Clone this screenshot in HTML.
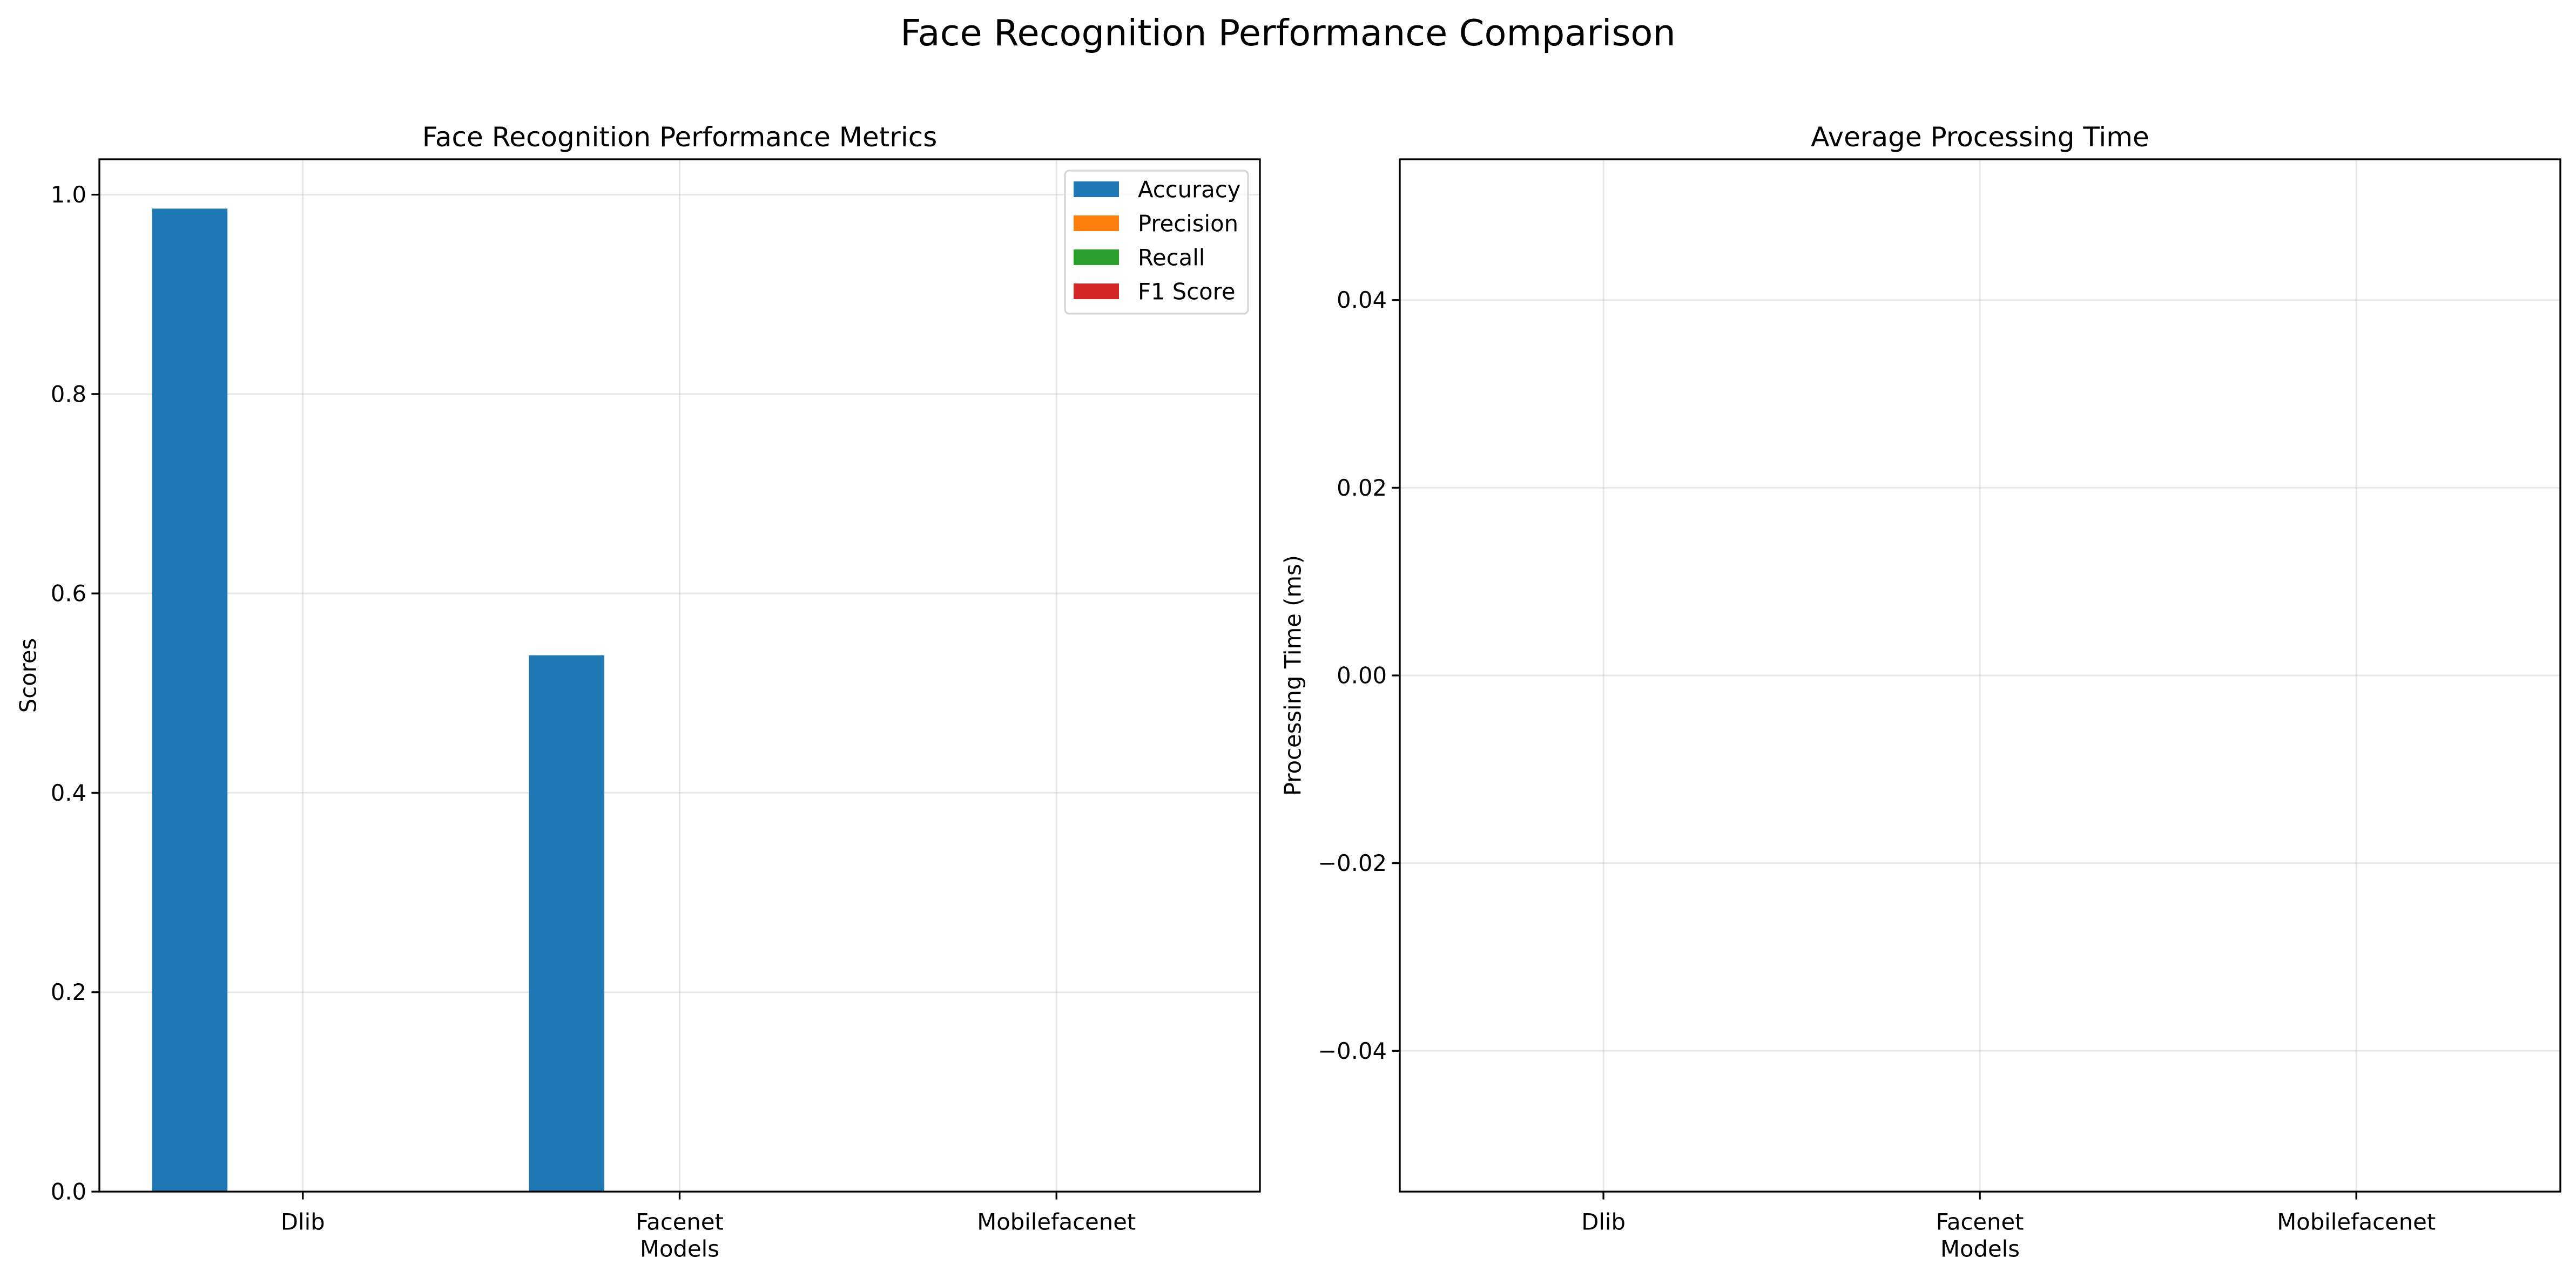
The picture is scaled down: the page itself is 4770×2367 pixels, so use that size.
<!DOCTYPE html>
<html><head><meta charset="utf-8"><style>
html,body{margin:0;padding:0;background:#fff;}
svg{display:block;font-family:"DejaVu Sans","Liberation Sans",sans-serif;}
</style></head><body>
<svg id="fig" width="4770" height="2367" viewBox="0 0 4770 2367" xmlns="http://www.w3.org/2000/svg">
<rect width="4770" height="2367" fill="#fff"/>
<text x="2385" y="61" font-size="67" text-anchor="middle" dominant-baseline="central">Face Recognition Performance Comparison</text>
<g id="left"></g><g id="right"></g>
</svg>
<script>
const categories = ["Dlib","Facenet","Mobilefacenet"];
const seriesNames = ["Accuracy","Precision","Recall","F1 Score"];
const seriesColors = ["#1f77b4","#ff7f0e","#2ca02c","#d62728"];
const accuracy = [0.986, 0.538, 0];
const precision = [0, 0, 0];
const recall = [0, 0, 0];
const f1 = [0, 0, 0];
const leftTicks = ["0.0","0.2","0.4","0.6","0.8","1.0"];
const timeValues = [];
const rightTicks = ["−0.04","−0.02","0.00","0.02","0.04"];
const rightTickVals = [-0.04,-0.02,0,0.02,0.04];

const NS="http://www.w3.org/2000/svg";
function mk(parent,tag,attrs,text){const e=document.createElementNS(NS,tag);for(const k in attrs)e.setAttribute(k,attrs[k]);if(text!==undefined)e.textContent=text;parent.appendChild(e);return e;}

function axes(g,L,R,T,B,xmin,xmax,ymin,ymax,yTickVals,yTickLabels,title,ylabel,prefix){
  const sx=v=>L+(v-xmin)/(xmax-xmin)*(R-L);
  const sy=v=>B-(v-ymin)/(ymax-ymin)*(B-T);
  yTickVals.forEach((v,i)=>{
    const y=sy(v);
    const gl=mk(g,'line',{x1:L,x2:R,y1:y,y2:y,stroke:'#b0b0b0','stroke-opacity':0.3,'stroke-width':3});
    
    
    const tk=mk(g,'line',{x1:L-14.6,x2:L,y1:y,y2:y,stroke:'#000','stroke-width':3.3});
    
    
    const t=mk(g,'text',{x:L-24,y:y,'font-size':41.7,'text-anchor':'end','dominant-baseline':'central'},yTickLabels[i]);
    
    
  });
  categories.forEach((c,i)=>{
    const x=sx(i);
    const gl=mk(g,'line',{x1:x,x2:x,y1:T,y2:B,stroke:'#b0b0b0','stroke-opacity':0.3,'stroke-width':3});
    
    
    const tk=mk(g,'line',{x1:x,x2:x,y1:B,y2:B+14.6,stroke:'#000','stroke-width':3.3});
    
    
    const t=mk(g,'text',{x:x,y:B+56,'font-size':41.7,'text-anchor':'middle','dominant-baseline':'central'},c);
    
    
  });
  const tt=mk(g,'text',{x:(L+R)/2,y:T-41,'font-size':50,'text-anchor':'middle','dominant-baseline':'central'},title);
  
  
  const xl=mk(g,'text',{x:(L+R)/2,y:B+106,'font-size':41.7,'text-anchor':'middle','dominant-baseline':'central'},'Models');
  
  
  return {sx,sy};
}

// Left chart
const gL=document.getElementById('left');


const L1=184,R1=2333,T1=295,B1=2207;
const a1=axes(gL,L1,R1,T1,B1,-0.54,2.54,0,1.0355,[0,0.2,0.4,0.6,0.8,1.0],leftTicks,'Face Recognition Performance Metrics','Scores','metrics');
const yl1=mk(gL,'text',{x:52,y:(T1+B1)/2,'font-size':41.7,'text-anchor':'middle','dominant-baseline':'central',transform:`rotate(-90 52 ${(T1+B1)/2})`},'Scores');


const allSeries=[accuracy,precision,recall,f1];
const bw=0.2;
allSeries.forEach((s,si)=>{
  s.forEach((v,ci)=>{
    const xc=ci+(si-1.5)*bw;
    const x0=a1.sx(xc-bw/2),x1=a1.sx(xc+bw/2);
    const y0=a1.sy(v),yb=a1.sy(0);
    const r=mk(gL,'rect',{x:x0,y:Math.min(y0,yb),width:x1-x0,height:Math.abs(yb-y0),fill:seriesColors[si]});
    
    
  });
});
const f1b=mk(gL,'rect',{x:L1,y:T1,width:R1-L1,height:B1-T1,fill:'none',stroke:'#000','stroke-width':3.3});


// legend
const lg=mk(gL,'g',{});


mk(lg,'rect',{x:1972,y:316,width:339,height:265,rx:8,fill:'#fff','fill-opacity':0.8,stroke:'#d6d6d6','stroke-width':3.3});
seriesNames.forEach((n,i)=>{
  const y=336+i*63;
  const e=mk(lg,'g',{});
  
  
  mk(e,'rect',{x:1988,y:y,width:84,height:29,fill:seriesColors[i]});
  mk(e,'text',{x:2107,y:y+15,'font-size':41.7,'dominant-baseline':'central'},n);
});

// Right chart
const gR=document.getElementById('right');


const L2=2592,R2=4741,T2=295,B2=2207;
const a2=axes(gR,L2,R2,T2,B2,-0.541,2.542,-0.055,0.055,rightTickVals,rightTicks,'Average Processing Time','Processing Time (ms)','time');
const yl2=mk(gR,'text',{x:2394,y:(T2+B2)/2,'font-size':41.7,'text-anchor':'middle','dominant-baseline':'central',transform:`rotate(-90 2394 ${(T2+B2)/2})`},'Processing Time (ms)');


timeValues.forEach((v,ci)=>{
  const x0=a2.sx(ci-0.4),x1=a2.sx(ci+0.4),y0=a2.sy(v),yb=a2.sy(0);
  const r=mk(gR,'rect',{x:x0,y:Math.min(y0,yb),width:x1-x0,height:Math.abs(yb-y0),fill:'#1f77b4'});
  
  
});
const f2b=mk(gR,'rect',{x:L2,y:T2,width:R2-L2,height:B2-T2,fill:'none',stroke:'#000','stroke-width':3.3});


</script>
</body></html>
